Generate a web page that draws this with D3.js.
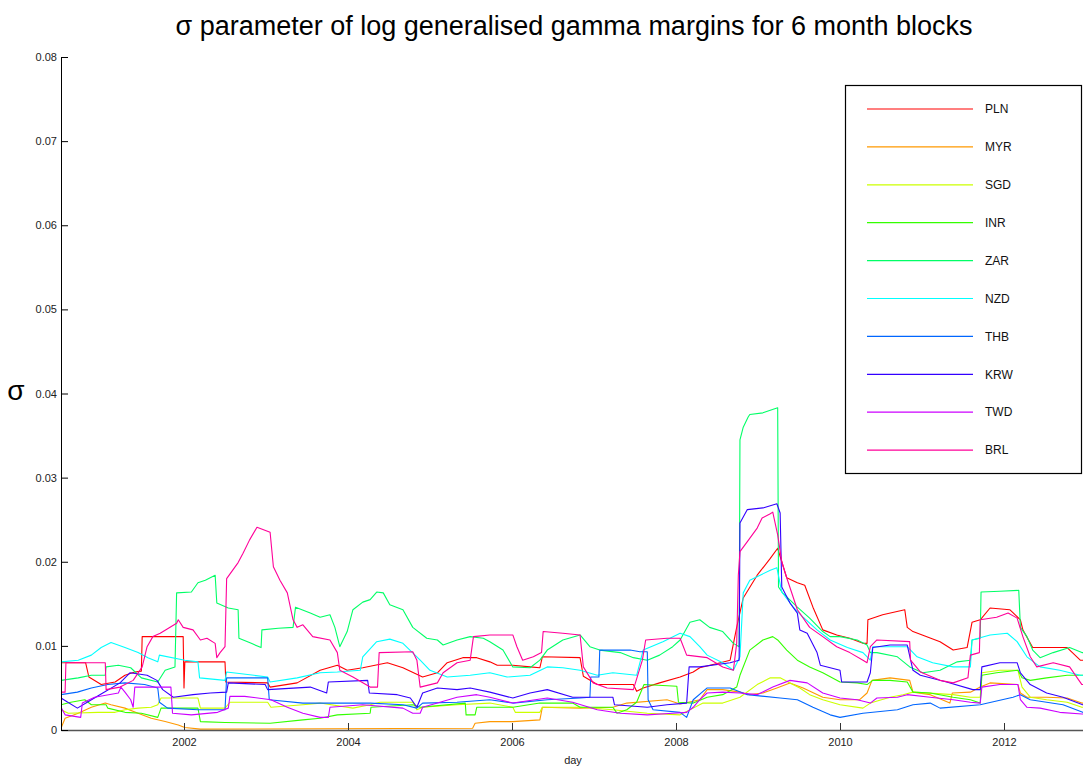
<!DOCTYPE html>
<html>
<head>
<meta charset="utf-8">
<script src="https://cdn.jsdelivr.net/npm/d3@7"></script>
<style>
  body { margin: 0; background: #fff; }
  svg { font-family: "Liberation Sans", Arial, sans-serif; }
</style>
</head>
<body>
<script>
const currencies = ["PLN", "MYR", "SGD", "INR", "ZAR", "NZD", "THB", "KRW", "TWD", "BRL"];
const colors = ["#ff0000", "#ff9900", "#ccff00", "#33ff00", "#00ff66", "#00ffff", "#0066ff", "#3300ff", "#cc00ff", "#ff0099"];
const xTicks = [2002, 2004, 2006, 2008, 2010, 2012];
const yTicks = [0, 0.01, 0.02, 0.03, 0.04, 0.05, 0.06, 0.07, 0.08];

// [year, sigma]
const PLN = [[2000.50,0.0080],[2000.80,0.0080],[2000.84,0.0063],[2000.99,0.0054],[2001.16,0.0057],[2001.28,0.0065],[2001.40,0.0069],[2001.48,0.0070],[2001.49,0.0111],[2001.99,0.0111],[2002.00,0.0050],[2002.01,0.0081],[2002.50,0.0081],[2002.51,0.0057],[2003.02,0.0056],[2003.05,0.0051],[2003.38,0.0056],[2003.66,0.0071],[2003.87,0.0077],[2003.99,0.0071],[2004.18,0.0074],[2004.48,0.0080],[2004.67,0.0074],[2004.91,0.0063],[2005.09,0.0068],[2005.21,0.0080],[2005.40,0.0086],[2005.57,0.0086],[2005.73,0.0081],[2005.82,0.0077],[2006.01,0.0077],[2006.22,0.0075],[2006.34,0.0074],[2006.37,0.0087],[2006.83,0.0086],[2006.87,0.0064],[2007.04,0.0054],[2007.48,0.0054],[2007.52,0.0046],[2007.60,0.0050],[2007.80,0.0056],[2008.05,0.0063],[2008.21,0.0069],[2008.29,0.0074],[2008.54,0.0080],[2008.66,0.0083],[2008.74,0.0122],[2008.82,0.0157],[2008.99,0.0184],[2009.15,0.0204],[2009.24,0.0216],[2009.29,0.0200],[2009.35,0.0181],[2009.48,0.0175],[2009.57,0.0172],[2009.67,0.0146],[2009.79,0.0119],[2009.96,0.0113],[2010.12,0.0109],[2010.28,0.0103],[2010.33,0.0103],[2010.34,0.0131],[2010.52,0.0137],[2010.79,0.0143],[2010.82,0.0122],[2010.89,0.0117],[2011.22,0.0105],[2011.38,0.0095],[2011.55,0.0098],[2011.61,0.0128],[2011.71,0.0131],[2011.83,0.0145],[2012.07,0.0143],[2012.20,0.0131],[2012.23,0.0119],[2012.35,0.0098],[2012.52,0.0098],[2012.77,0.0098],[2012.93,0.0083],[2013.0,0.0083]];
const MYR = [[2000.50,0.0002],[2000.55,0.0014],[2000.71,0.0020],[2000.87,0.0027],[2001.04,0.0032],[2001.11,0.0030],[2001.28,0.0026],[2001.44,0.0020],[2001.60,0.0014],[2001.77,0.0010],[2001.93,0.0006],[2002.01,0.0003],[2002.20,0.0001],[2005.52,0.0002],[2005.55,0.0008],[2005.73,0.0010],[2006.01,0.0010],[2006.34,0.0012],[2006.37,0.0027],[2006.83,0.0026],[2007.23,0.0027],[2007.40,0.0032],[2007.89,0.0036],[2008.05,0.0031],[2008.29,0.0036],[2008.38,0.0048],[2008.57,0.0048],[2008.78,0.0045],[2008.90,0.0042],[2009.06,0.0044],[2009.23,0.0050],[2009.39,0.0056],[2009.55,0.0050],[2009.79,0.0039],[2010.00,0.0036],[2010.24,0.0036],[2010.33,0.0044],[2010.39,0.0059],[2010.61,0.0062],[2010.85,0.0059],[2010.89,0.0045],[2011.10,0.0042],[2011.34,0.0032],[2011.37,0.0044],[2011.59,0.0045],[2011.71,0.0051],[2011.83,0.0056],[2012.17,0.0054],[2012.20,0.0044],[2012.28,0.0039],[2012.52,0.0039],[2012.77,0.0038],[2012.95,0.0032],[2013.0,0.0032]];
const SGD = [[2000.50,0.0024],[2000.59,0.0020],[2000.95,0.0021],[2001.16,0.0021],[2001.28,0.0024],[2001.44,0.0026],[2001.60,0.0027],[2001.68,0.0030],[2001.72,0.0038],[2002.17,0.0038],[2002.20,0.0026],[2002.50,0.0026],[2002.56,0.0033],[2003.02,0.0033],[2003.06,0.0027],[2003.45,0.0030],[2003.66,0.0032],[2004.06,0.0026],[2004.27,0.0030],[2004.39,0.0033],[2004.79,0.0033],[2004.84,0.0024],[2004.91,0.0027],[2005.33,0.0030],[2005.73,0.0032],[2006.01,0.0027],[2006.04,0.0021],[2006.34,0.0021],[2006.37,0.0027],[2006.83,0.0027],[2007.23,0.0024],[2007.65,0.0020],[2008.05,0.0018],[2008.21,0.0026],[2008.33,0.0032],[2008.57,0.0032],[2008.78,0.0039],[2008.99,0.0054],[2009.15,0.0062],[2009.27,0.0062],[2009.39,0.0056],[2009.51,0.0050],[2009.63,0.0042],[2009.79,0.0036],[2010.00,0.0030],[2010.28,0.0026],[2010.37,0.0032],[2010.61,0.0039],[2010.77,0.0042],[2010.89,0.0045],[2011.38,0.0042],[2011.59,0.0039],[2011.71,0.0039],[2011.73,0.0068],[2011.95,0.0071],[2012.17,0.0071],[2012.22,0.0051],[2012.32,0.0039],[2012.52,0.0036],[2012.77,0.0033],[2012.95,0.0027],[2013.0,0.0027]];
const INR = [[2000.50,0.0030],[2000.62,0.0033],[2000.79,0.0036],[2000.87,0.0030],[2001.05,0.0030],[2001.07,0.0026],[2001.28,0.0021],[2001.48,0.0020],[2001.68,0.0015],[2001.72,0.0026],[2002.17,0.0026],[2002.20,0.0010],[2002.50,0.0009],[2003.05,0.0008],[2003.45,0.0012],[2003.66,0.0014],[2003.87,0.0018],[2004.27,0.0020],[2004.28,0.0027],[2004.79,0.0030],[2004.88,0.0027],[2005.43,0.0032],[2005.44,0.0018],[2005.55,0.0018],[2005.57,0.0027],[2006.01,0.0027],[2006.34,0.0032],[2006.74,0.0032],[2006.83,0.0027],[2007.23,0.0027],[2007.28,0.0020],[2007.40,0.0024],[2007.52,0.0033],[2007.61,0.0054],[2008.01,0.0052],[2008.03,0.0033],[2008.21,0.0032],[2008.38,0.0039],[2008.57,0.0042],[2008.74,0.0051],[2008.78,0.0065],[2008.90,0.0095],[2009.06,0.0107],[2009.18,0.0111],[2009.24,0.0107],[2009.35,0.0095],[2009.48,0.0083],[2009.63,0.0075],[2009.79,0.0068],[2010.00,0.0057],[2010.21,0.0056],[2010.33,0.0054],[2010.40,0.0059],[2010.61,0.0059],[2010.82,0.0057],[2010.89,0.0045],[2011.10,0.0044],[2011.38,0.0039],[2011.59,0.0036],[2011.71,0.0032],[2011.73,0.0065],[2011.91,0.0068],[2012.17,0.0071],[2012.22,0.0062],[2012.32,0.0059],[2012.52,0.0062],[2012.77,0.0065],[2012.95,0.0065],[2013.0,0.0065]];
const ZAR = [[2000.50,0.0059],[2000.71,0.0062],[2000.87,0.0065],[2001.04,0.0065],[2001.05,0.0075],[2001.20,0.0077],[2001.35,0.0074],[2001.48,0.0062],[2001.68,0.0057],[2001.77,0.0071],[2001.89,0.0075],[2001.91,0.0163],[2002.09,0.0164],[2002.17,0.0175],[2002.26,0.0178],[2002.38,0.0184],[2002.40,0.0151],[2002.54,0.0145],[2002.66,0.0143],[2002.67,0.0109],[2002.82,0.0103],[2002.94,0.0098],[2002.95,0.0119],[2003.15,0.0121],[2003.33,0.0122],[2003.36,0.0146],[2003.54,0.0139],[2003.66,0.0134],[2003.78,0.0137],[2003.84,0.0122],[2003.90,0.0099],[2003.99,0.0117],[2004.06,0.0143],[2004.18,0.0152],[2004.27,0.0155],[2004.35,0.0164],[2004.43,0.0163],[2004.51,0.0149],[2004.67,0.0143],[2004.79,0.0122],[2004.96,0.0109],[2005.09,0.0107],[2005.16,0.0101],[2005.33,0.0107],[2005.49,0.0111],[2005.65,0.0109],[2005.73,0.0105],[2005.89,0.0095],[2006.01,0.0075],[2006.22,0.0074],[2006.34,0.0083],[2006.43,0.0095],[2006.62,0.0107],[2006.83,0.0113],[2006.95,0.0099],[2007.07,0.0095],[2007.32,0.0092],[2007.48,0.0086],[2007.65,0.0083],[2007.80,0.0089],[2007.96,0.0099],[2008.05,0.0107],[2008.17,0.0128],[2008.29,0.0131],[2008.41,0.0122],[2008.57,0.0117],[2008.70,0.0103],[2008.77,0.0099],[2008.78,0.0345],[2008.82,0.0360],[2008.88,0.0372],[2008.90,0.0375],[2009.06,0.0377],[2009.24,0.0383],[2009.25,0.0170],[2009.30,0.0163],[2009.48,0.0146],[2009.63,0.0133],[2009.79,0.0117],[2009.88,0.0111],[2010.00,0.0111],[2010.21,0.0107],[2010.33,0.0101],[2010.37,0.0092],[2010.45,0.0092],[2010.70,0.0087],[2010.85,0.0075],[2011.01,0.0068],[2011.22,0.0071],[2011.43,0.0081],[2011.59,0.0083],[2011.61,0.0107],[2011.71,0.0109],[2011.72,0.0164],[2011.95,0.0165],[2012.18,0.0166],[2012.20,0.0122],[2012.28,0.0111],[2012.35,0.0095],[2012.44,0.0086],[2012.60,0.0092],[2012.80,0.0098],[2012.95,0.0092],[2013.0,0.0092]];
const NZD = [[2000.50,0.0081],[2000.71,0.0083],[2000.87,0.0089],[2000.99,0.0098],[2001.11,0.0104],[2001.28,0.0098],[2001.44,0.0092],[2001.56,0.0086],[2001.68,0.0081],[2001.70,0.0089],[2002.01,0.0083],[2002.17,0.0081],[2002.19,0.0062],[2002.50,0.0059],[2002.52,0.0069],[2003.02,0.0063],[2003.05,0.0057],[2003.38,0.0062],[2003.66,0.0068],[2003.87,0.0069],[2004.15,0.0071],[2004.18,0.0087],[2004.35,0.0105],[2004.51,0.0108],[2004.67,0.0103],[2004.88,0.0083],[2005.00,0.0071],[2005.21,0.0063],[2005.49,0.0065],[2005.73,0.0068],[2005.94,0.0063],[2006.22,0.0065],[2006.43,0.0075],[2006.62,0.0074],[2006.83,0.0071],[2007.04,0.0065],[2007.23,0.0068],[2007.52,0.0065],[2007.60,0.0095],[2007.84,0.0105],[2008.05,0.0115],[2008.17,0.0111],[2008.29,0.0099],[2008.38,0.0089],[2008.57,0.0080],[2008.70,0.0071],[2008.78,0.0087],[2008.82,0.0163],[2008.90,0.0178],[2009.15,0.0190],[2009.23,0.0193],[2009.29,0.0164],[2009.43,0.0146],[2009.55,0.0134],[2009.72,0.0119],[2009.88,0.0107],[2010.09,0.0098],[2010.28,0.0092],[2010.37,0.0083],[2010.40,0.0099],[2010.61,0.0099],[2010.82,0.0099],[2010.94,0.0087],[2011.13,0.0080],[2011.38,0.0075],[2011.59,0.0075],[2011.61,0.0107],[2011.83,0.0113],[2012.04,0.0115],[2012.16,0.0105],[2012.28,0.0087],[2012.44,0.0075],[2012.68,0.0071],[2012.93,0.0065],[2013.0,0.0065]];
const THB = [[2000.50,0.0042],[2000.70,0.0045],[2000.87,0.0050],[2001.07,0.0054],[2001.28,0.0056],[2001.52,0.0054],[2001.68,0.0050],[2001.70,0.0033],[2001.80,0.0026],[2002.17,0.0024],[2002.50,0.0024],[2002.52,0.0062],[2003.02,0.0062],[2003.04,0.0036],[2003.45,0.0032],[2003.87,0.0032],[2004.27,0.0032],[2004.67,0.0030],[2004.84,0.0026],[2004.91,0.0032],[2005.33,0.0033],[2005.73,0.0036],[2006.01,0.0032],[2006.43,0.0036],[2006.83,0.0038],[2006.95,0.0039],[2006.96,0.0063],[2007.06,0.0063],[2007.07,0.0095],[2007.44,0.0095],[2007.56,0.0093],[2007.65,0.0093],[2007.66,0.0036],[2007.72,0.0024],[2008.05,0.0021],[2008.13,0.0015],[2008.21,0.0036],[2008.38,0.0050],[2008.66,0.0050],[2008.87,0.0042],[2009.27,0.0038],[2009.48,0.0036],[2009.67,0.0027],[2009.88,0.0018],[2010.00,0.0015],[2010.28,0.0020],[2010.70,0.0024],[2010.89,0.0030],[2011.10,0.0032],[2011.22,0.0026],[2011.71,0.0030],[2012.11,0.0039],[2012.20,0.0042],[2012.32,0.0036],[2012.72,0.0030],[2012.96,0.0021],[2013.0,0.0021]];
const KRW = [[2000.50,0.0038],[2000.70,0.0026],[2000.82,0.0033],[2001.01,0.0044],[2001.22,0.0056],[2001.34,0.0068],[2001.55,0.0065],[2001.67,0.0059],[2001.74,0.0048],[2001.87,0.0039],[2002.11,0.0042],[2002.32,0.0044],[2002.52,0.0045],[2002.54,0.0056],[2002.99,0.0054],[2003.02,0.0048],[2003.54,0.0051],[2003.74,0.0044],[2003.76,0.0057],[2004.24,0.0059],[2004.26,0.0044],[2004.60,0.0042],[2004.76,0.0038],[2004.84,0.0027],[2004.91,0.0044],[2005.09,0.0050],[2005.33,0.0048],[2005.49,0.0050],[2005.73,0.0045],[2006.01,0.0038],[2006.22,0.0044],[2006.43,0.0048],[2006.74,0.0039],[2007.04,0.0039],[2007.23,0.0039],[2007.25,0.0030],[2007.65,0.0027],[2007.89,0.0030],[2008.13,0.0032],[2008.16,0.0075],[2008.29,0.0075],[2008.66,0.0080],[2008.77,0.0083],[2008.78,0.0246],[2008.87,0.0262],[2009.06,0.0264],[2009.23,0.0269],[2009.27,0.0258],[2009.29,0.0170],[2009.39,0.0151],[2009.48,0.0139],[2009.51,0.0119],[2009.60,0.0115],[2009.72,0.0092],[2009.76,0.0077],[2010.00,0.0071],[2010.02,0.0057],[2010.33,0.0057],[2010.37,0.0068],[2010.40,0.0098],[2010.61,0.0101],[2010.82,0.0101],[2010.89,0.0071],[2010.98,0.0065],[2011.30,0.0057],[2011.62,0.0048],[2011.71,0.0048],[2011.73,0.0075],[2011.95,0.0080],[2012.16,0.0080],[2012.20,0.0068],[2012.32,0.0054],[2012.52,0.0044],[2012.72,0.0039],[2012.96,0.0030],[2013.0,0.0030]];
const TWD = [[2000.50,0.0027],[2000.55,0.0018],[2000.74,0.0015],[2000.76,0.0032],[2000.91,0.0039],[2001.20,0.0044],[2001.23,0.0051],[2001.28,0.0045],[2001.35,0.0036],[2001.38,0.0027],[2001.40,0.0051],[2001.84,0.0051],[2001.86,0.0020],[2002.09,0.0018],[2002.41,0.0021],[2002.54,0.0026],[2002.56,0.0040],[2002.74,0.0040],[2003.06,0.0036],[2003.26,0.0027],[2003.45,0.0020],[2003.66,0.0015],[2003.76,0.0015],[2003.78,0.0027],[2004.18,0.0030],[2004.67,0.0026],[2004.79,0.0020],[2004.88,0.0020],[2004.91,0.0027],[2005.09,0.0032],[2005.33,0.0039],[2005.57,0.0042],[2005.73,0.0039],[2006.01,0.0032],[2006.43,0.0038],[2006.74,0.0033],[2007.04,0.0024],[2007.32,0.0020],[2007.65,0.0018],[2007.96,0.0020],[2008.13,0.0021],[2008.21,0.0027],[2008.29,0.0036],[2008.38,0.0044],[2008.57,0.0045],[2008.78,0.0044],[2008.99,0.0042],[2009.18,0.0051],[2009.39,0.0059],[2009.60,0.0056],[2009.79,0.0044],[2010.00,0.0038],[2010.21,0.0036],[2010.37,0.0032],[2010.45,0.0038],[2010.70,0.0039],[2010.82,0.0042],[2011.10,0.0039],[2011.38,0.0036],[2011.59,0.0033],[2011.71,0.0032],[2011.73,0.0051],[2011.95,0.0054],[2012.17,0.0054],[2012.20,0.0036],[2012.28,0.0027],[2012.44,0.0026],[2012.68,0.0021],[2012.95,0.0019],[2013.0,0.0019]];
const BRL = [[2000.50,0.0045],[2000.55,0.0045],[2000.56,0.0080],[2001.04,0.0080],[2001.05,0.0048],[2001.22,0.0051],[2001.38,0.0059],[2001.49,0.0075],[2001.55,0.0099],[2001.62,0.0111],[2001.71,0.0115],[2001.91,0.0127],[2001.93,0.0131],[2001.99,0.0122],[2002.11,0.0119],[2002.20,0.0107],[2002.28,0.0109],[2002.38,0.0103],[2002.40,0.0086],[2002.44,0.0092],[2002.50,0.0099],[2002.52,0.0180],[2002.66,0.0199],[2002.72,0.0210],[2002.80,0.0226],[2002.89,0.0241],[2003.05,0.0235],[2003.09,0.0194],[2003.17,0.0178],[2003.26,0.0163],[2003.33,0.0131],[2003.38,0.0122],[2003.45,0.0125],[2003.57,0.0111],[2003.78,0.0107],[2003.87,0.0092],[2003.90,0.0071],[2004.06,0.0063],[2004.27,0.0051],[2004.36,0.0051],[2004.38,0.0092],[2004.79,0.0093],[2004.84,0.0083],[2004.88,0.0051],[2005.09,0.0056],[2005.16,0.0068],[2005.33,0.0080],[2005.49,0.0083],[2005.53,0.0111],[2005.73,0.0113],[2006.01,0.0113],[2006.06,0.0099],[2006.13,0.0083],[2006.26,0.0087],[2006.36,0.0092],[2006.38,0.0117],[2006.62,0.0115],[2006.83,0.0113],[2006.87,0.0075],[2006.99,0.0056],[2007.16,0.0050],[2007.48,0.0048],[2007.59,0.0083],[2007.63,0.0107],[2007.89,0.0109],[2008.05,0.0109],[2008.13,0.0089],[2008.38,0.0086],[2008.57,0.0075],[2008.70,0.0071],[2008.74,0.0103],[2008.76,0.0184],[2008.78,0.0212],[2008.87,0.0224],[2008.99,0.0240],[2009.05,0.0252],[2009.15,0.0257],[2009.18,0.0259],[2009.24,0.0232],[2009.29,0.0200],[2009.35,0.0181],[2009.48,0.0143],[2009.63,0.0122],[2009.79,0.0111],[2009.96,0.0099],[2010.12,0.0092],[2010.28,0.0083],[2010.33,0.0080],[2010.37,0.0099],[2010.45,0.0107],[2010.85,0.0105],[2010.86,0.0083],[2010.98,0.0069],[2011.22,0.0059],[2011.38,0.0056],[2011.56,0.0062],[2011.59,0.0089],[2011.70,0.0092],[2011.71,0.0131],[2011.91,0.0134],[2012.05,0.0139],[2012.16,0.0133],[2012.23,0.0111],[2012.32,0.0087],[2012.40,0.0075],[2012.60,0.0080],[2012.80,0.0075],[2012.95,0.0054],[2013.0,0.0054]];

const series = [PLN, MYR, SGD, INR, ZAR, NZD, THB, KRW, TWD, BRL];

const width = 1083;
const height = 769;
const margin = { top: 57, right: -3, bottom: 39, left: 61 };

const svg = d3
  .select("body")
  .append("svg")
  .attr("width", width)
  .attr("height", height);

const x = d3.scaleLinear().domain([2000.5, 2013]).range([margin.left, width - margin.right]);
const y = d3.scaleLinear().domain([0, 0.08]).range([height - margin.bottom, margin.top]);

svg.append("clipPath").attr("id", "clip")
  .append("rect")
  .attr("x", margin.left)
  .attr("y", margin.top)
  .attr("width", width - margin.left - margin.right)
  .attr("height", height - margin.top - margin.bottom);

const line = d3.line().x((d) => x(d[0])).y((d) => y(d[1]));

svg.append("g")
  .attr("clip-path", "url(#clip)")
  .selectAll("path")
  .data(series)
  .enter()
  .append("path")
  .attr("d", line)
  .attr("fill", "none")
  .attr("stroke", (_, i) => colors[i])
  .attr("stroke-width", 1.1)
  .attr("stroke-linejoin", "round");

// axes (matlab style: ticks inside)
const xAxis = svg.append("g")
  .attr("transform", `translate(0,${y(0)})`)
  .call(d3.axisBottom(x).tickValues(xTicks).tickFormat(d3.format("d")).tickSizeInner(-7).tickSizeOuter(0).tickPadding(8));
xAxis.select(".domain").attr("stroke", "#555").attr("stroke-width", 1.5);
xAxis.selectAll(".tick line").attr("stroke", "#333");
xAxis.selectAll("text").attr("font-size", 11).attr("fill", "#222");

const yAxis = svg.append("g")
  .attr("transform", `translate(${margin.left},0)`)
  .call(d3.axisLeft(y).tickValues(yTicks).tickFormat((d) => (d === 0 ? "0" : d3.format(".2f")(d))).tickSizeInner(-7).tickSizeOuter(0).tickPadding(4));
yAxis.select(".domain").attr("stroke", "#000").attr("stroke-width", 1);
yAxis.selectAll("text").attr("font-size", 11).attr("fill", "#222");

svg.append("text")
  .attr("x", 574)
  .attr("y", 35)
  .attr("text-anchor", "middle")
  .attr("font-size", 27)
  .attr("fill", "#000")
  .text("σ parameter of log generalised gamma margins for 6 month blocks");

svg.append("text")
  .attr("x", 16)
  .attr("y", 400)
  .attr("text-anchor", "middle")
  .attr("font-size", 28)
  .attr("fill", "#000")
  .text("σ");

svg.append("text")
  .attr("x", 573)
  .attr("y", 764)
  .attr("text-anchor", "middle")
  .attr("font-size", 11)
  .attr("fill", "#222")
  .text("day");

// legend
const legend = svg.append("g");
legend.append("rect")
  .attr("x", 845.5)
  .attr("y", 85.5)
  .attr("width", 236)
  .attr("height", 388)
  .attr("fill", "#fff")
  .attr("stroke", "#000")
  .attr("stroke-width", 1.2);

const rows = legend.selectAll("g.row")
  .data(currencies)
  .enter()
  .append("g")
  .attr("class", "row")
  .attr("transform", (_, i) => `translate(0,${109 + i * 37.9})`);
rows.append("line")
  .attr("x1", 867)
  .attr("x2", 973)
  .attr("stroke", (_, i) => colors[i])
  .attr("stroke-width", 1.2);
rows.append("text")
  .attr("x", 985)
  .attr("dy", "0.35em")
  .attr("font-size", 12)
  .attr("fill", "#111")
  .text((d) => d);
</script>
</body>
</html>
